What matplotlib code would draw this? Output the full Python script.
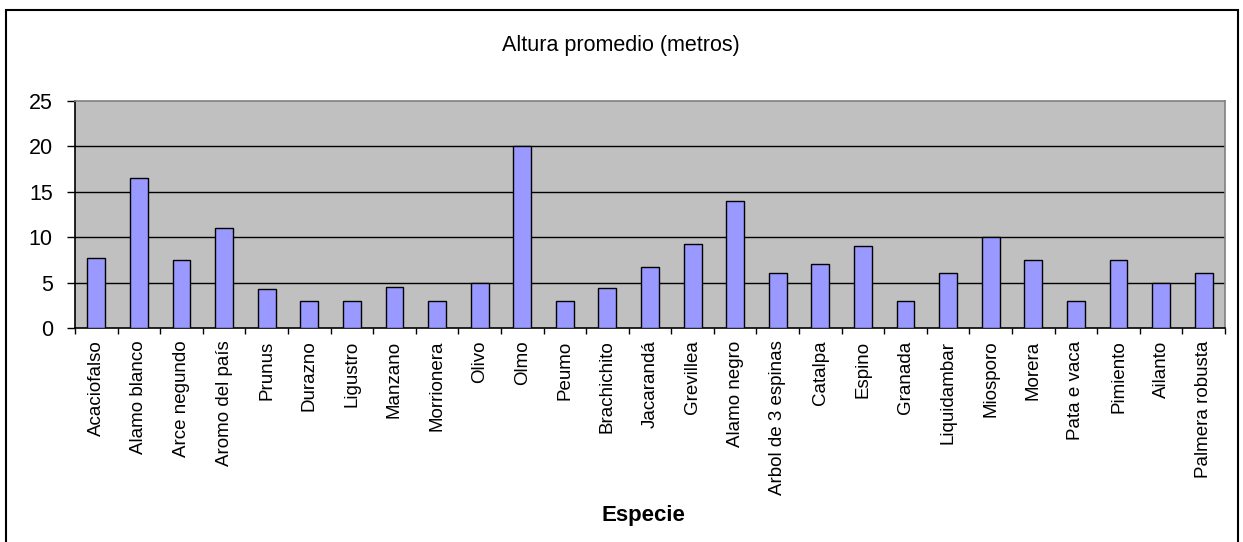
import numpy as np
import matplotlib
matplotlib.use("Agg")
import matplotlib.pyplot as plt
from matplotlib.patches import Rectangle

plt.rcParams['font.family'] = ['Liberation Sans', 'DejaVu Sans']

especies = ["Acaciofalso", "Alamo blanco", "Arce negundo", "Aromo del país", "Prunus",
            "Durazno", "Ligustro", "Manzano", "Morrionera", "Olivo", "Olmo", "Peumo",
            "Brachichito", "Jacarandá", "Grevillea", "Alamo negro", "Arbol de 3 espinas",
            "Catalpa", "Espino", "Granada", "Liquidambar", "Miosporo", "Morera",
            "Pata e vaca", "Pimiento", "Ailanto", "Palmera robusta"]
altura = [7.75, 16.5, 7.5, 11, 4.25, 3, 3, 4.5, 3, 5, 20, 3,
          4.4, 6.7, 9.3, 14, 6.1, 7, 9, 3, 6.1, 10, 7.5,
          3, 7.5, 5, 6.1]
yticks = [0, 5, 10, 15, 20, 25]

fig = plt.figure(figsize=(12.43, 5.42), dpi=100)
ax = fig.add_axes([75/1243, 1-328/542, 1150/1243, 227/542])
ax.set_facecolor('#C0C0C0')

x = np.arange(len(especies))
ax.bar(x, altura, width=0.42, color='#9999FF', edgecolor='black', linewidth=1, zorder=3)

ax.set_xlim(-0.5, len(especies) - 0.5)
ax.set_ylim(0, 25)
ax.set_yticks(yticks)
ax.set_yticklabels([str(v) for v in yticks], fontsize=15.5)
for v in yticks[1:-1]:
    ax.axhline(v, color='black', linewidth=1, zorder=1)

ax.set_xticks(x)
ax.set_xticklabels(especies, rotation=90, fontsize=13.5, va='top')
ax.set_xticks(np.arange(len(especies) + 1) - 0.5, minor=True)
ax.tick_params(axis='x', which='major', length=0, pad=9)
ax.tick_params(axis='x', which='minor', length=4, width=1, direction='out')
ax.tick_params(axis='y', length=6, width=1, direction='out', pad=10)

ax.spines['left'].set_color('black')
ax.spines['bottom'].set_color('black')
ax.spines['top'].set_color('#808080')
ax.spines['right'].set_color('#808080')
for s in ax.spines.values():
    s.set_linewidth(1.2)

fig.text(621/1243, 1-45/542, "Altura promedio (metros)", ha='center', va='center', fontsize=15.5)
fig.text(643/1243, 1-515/542, "Especie", ha='center', va='center', fontsize=16, fontweight='bold')

fig.patches.append(Rectangle((6/1243, -0.02), 1232/1243, 1-10/542+0.02, transform=fig.transFigure,
                             fill=False, edgecolor='black', linewidth=1.5))

fig.savefig("out.png", dpi=100)
